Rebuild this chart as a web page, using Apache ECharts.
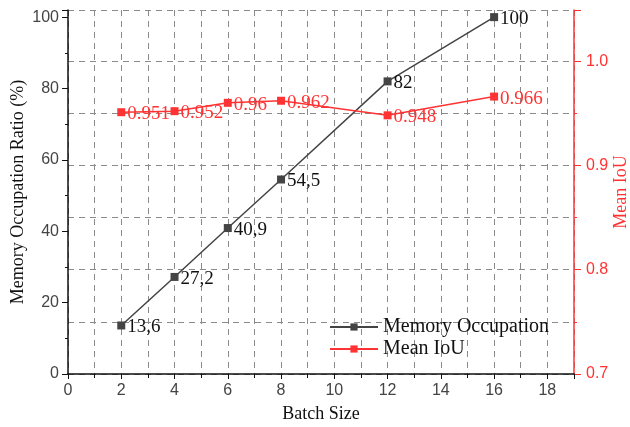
<!DOCTYPE html>
<html>
<head>
<meta charset="utf-8">
<script src="https://cdn.jsdelivr.net/npm/echarts@6/dist/echarts.min.js"></script>
<style>html,body{margin:0;padding:0;background:#fff}#c{width:630px;height:427px}</style>
</head>
<body>
<div id="c"></div>
<script>
var batchSizes = [2, 4, 6, 8, 12, 16];
var memoryOccupation = [13.6, 27.2, 40.9, 54.5, 82, 100];
var memoryLabels = ['13,6', '27,2', '40,9', '54,5', '82', '100'];
var meanIoU = [0.951, 0.952, 0.96, 0.962, 0.948, 0.966];
var xTicks = [0, 2, 4, 6, 8, 10, 12, 14, 16, 18];
var leftTicks = [0, 20, 40, 60, 80, 100];
var rightTicks = [0.7, 0.8, 0.9, 1.0];

var serif = '"Liberation Serif", "DejaVu Serif", serif';
var sans = '"Liberation Sans", Arial, sans-serif';
var gridStyle = { color: '#8a8a8a', width: 1, type: [6, 5] };

var chart = echarts.init(document.getElementById('c'));
chart.setOption({
  animation: false,
  backgroundColor: '#fff',
  grid: { left: 68, right: 56, top: 10, bottom: 53, containLabel: false, outerBoundsMode: 'none' },
  legend: {
    orient: 'vertical', left: 324, top: 312, itemGap: 2,
    itemWidth: 48, itemHeight: 9,
    textStyle: { fontFamily: serif, fontSize: 20, color: '#111' },
    data: ['Memory Occupation', 'Mean IoU']
  },
  xAxis: {
    type: 'value', min: 0, max: 19, interval: 2,
    name: 'Batch Size', nameLocation: 'middle', nameGap: 31, nameMoveOverlap: false,
    nameTextStyle: { fontFamily: serif, fontSize: 18, color: '#111' },
    axisLine: { lineStyle: { color: '#111', width: 1.5 } },
    axisTick: { length: 5, lineStyle: { color: '#111' } },
    minorTick: { show: true, splitNumber: 2, length: 4, lineStyle: { color: '#111' } },
    splitLine: { show: true, lineStyle: gridStyle },
    minorSplitLine: { show: true, lineStyle: gridStyle },
    axisLabel: {
      margin: 9, fontFamily: sans, fontSize: 16, color: '#444',
      formatter: function (v) { return xTicks.indexOf(v) >= 0 ? String(v) : ''; }
    }
  },
  yAxis: [{
    type: 'value', min: 0, max: 102, interval: 20,
    name: 'Memory Occupation Ratio (%)', nameLocation: 'middle', nameGap: 41, nameMoveOverlap: false,
    nameTextStyle: { fontFamily: serif, fontSize: 18, color: '#111' },
    axisLine: { show: true, lineStyle: { color: '#111', width: 1.5 } },
    axisTick: { show: true, length: 6, lineStyle: { color: '#111' } },
    minorTick: { show: true, splitNumber: 2, length: 3, lineStyle: { color: '#111' } },
    splitLine: { show: false },
    axisLabel: {
      margin: 9, fontFamily: sans, fontSize: 16, color: '#444',
      formatter: function (v) { return leftTicks.indexOf(v) >= 0 ? String(v) : ''; }
    }
  }, {
    type: 'value', min: 0.7, max: 1.049, interval: 0.1, position: 'right',
    name: 'Mean IoU', nameLocation: 'middle', nameGap: 38, nameMoveOverlap: false,
    nameTextStyle: { fontFamily: serif, fontSize: 18, color: '#ff3333' },
    axisLine: { show: true, lineStyle: { color: '#ff3333', width: 1.5 } },
    axisTick: { show: true, length: 7, lineStyle: { color: '#ff3333' } },
    minorTick: { show: true, splitNumber: 2, length: 3, lineStyle: { color: '#ff3333' } },
    splitLine: { show: true, lineStyle: gridStyle },
    minorSplitLine: { show: true, lineStyle: gridStyle },
    axisLabel: {
      margin: 12, fontFamily: sans, fontSize: 16, color: '#ff3333',
      formatter: function (v) {
        for (var i = 0; i < rightTicks.length; i++) if (Math.abs(rightTicks[i] - v) < 1e-6) return v.toFixed(1);
        return '';
      }
    }
  }],
  series: [{
    name: 'Memory Occupation', type: 'line', yAxisIndex: 0,
    data: batchSizes.map(function (b, i) { return [b, memoryOccupation[i]]; }),
    symbol: 'rect', symbolSize: 8,
    itemStyle: { color: '#444' },
    lineStyle: { color: '#444', width: 1.5 },
    label: {
      show: true, position: 'right', distance: 2, offset: [0, 2],
      fontFamily: serif, fontSize: 19, color: '#111',
      formatter: function (p) { return memoryLabels[p.dataIndex]; }
    },
    z: 3
  }, {
    name: 'Mean IoU', type: 'line', yAxisIndex: 1,
    data: batchSizes.map(function (b, i) { return [b, meanIoU[i]]; }),
    symbol: 'rect', symbolSize: 8,
    itemStyle: { color: '#ff3333' },
    lineStyle: { color: '#ff3333', width: 1.5 },
    label: {
      show: true, position: 'right', distance: 2, offset: [0, 2],
      fontFamily: serif, fontSize: 19, color: '#ff3333',
      formatter: function (p) { return String(meanIoU[p.dataIndex]); }
    },
    z: 3
  }]
});
</script>
</body>
</html>
